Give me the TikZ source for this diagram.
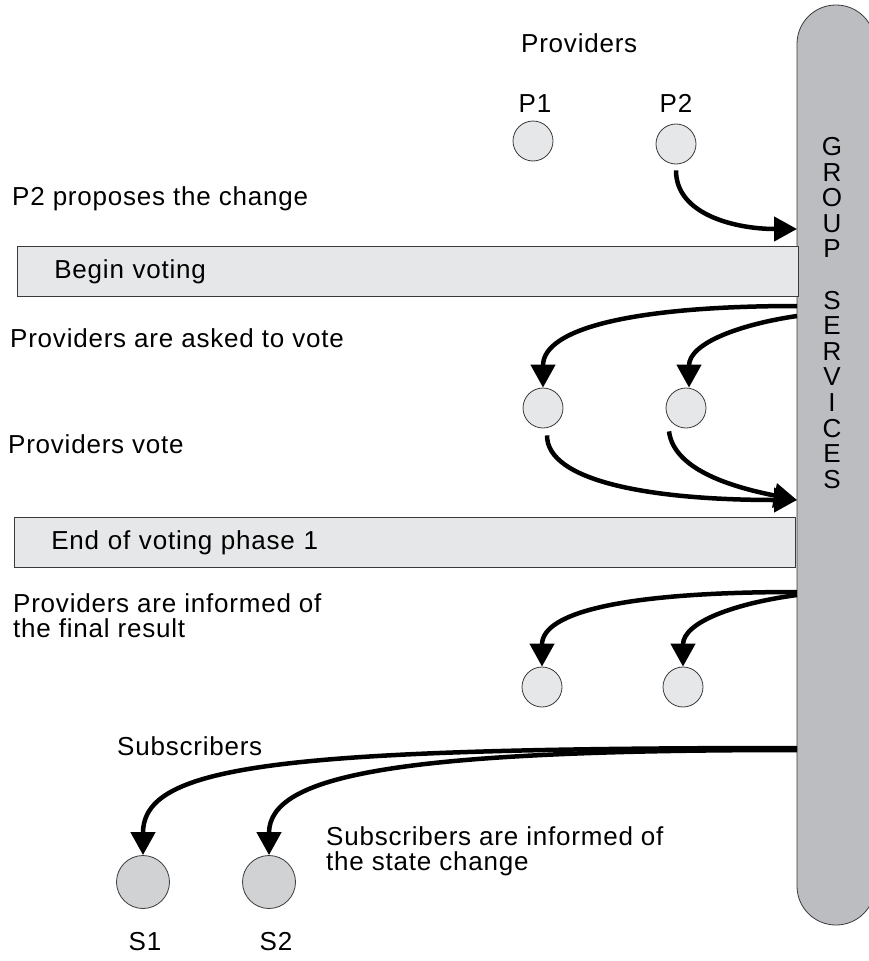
\documentclass[tikz,border=0pt]{standalone}
\usepackage{fontspec}
\setmainfont{Liberation Sans}[LetterSpace=3]
\usetikzlibrary{arrows.meta}

\definecolor{barfill}{HTML}{BCBDC0}
\definecolor{boxfill}{HTML}{E6E7E8}
\definecolor{subfill}{HTML}{D1D2D4}
\definecolor{edgegrey}{HTML}{3A3A3C}

\begin{document}
\begin{tikzpicture}[
    x=1pt, y=-1pt,
    every node/.style={font=\fontsize{26}{25}\selectfont, inner sep=0pt},
    label text/.style={anchor=base west},
    member/.style={circle, draw=edgegrey, line width=0.8pt, fill=boxfill, minimum size=40pt},
    subscriber/.style={member, fill=subfill, minimum size=53pt},
    phase/.style={rectangle, draw=edgegrey, line width=0.8pt, fill=boxfill, minimum height=50pt,
        text width=#1, align=left, inner xsep=37pt, anchor=north west},
    msg/.style={draw=black, line width=4.5pt, -{Triangle[length=23pt, width=24pt]}}
    ]
    \useasboundingbox (0,0) rectangle (869,961);

    % Group services bar
    \node[draw=edgegrey, line width=0.8pt, fill=barfill, rounded corners=38.9pt,
        minimum width=78pt, minimum height=920pt] (gs) at (836,465) {};
    \node[align=center, font=\fontsize{26}{25.6}\selectfont] (gstext) at (832,313)
        {G\\R\\O\\U\\P\\[25.6pt]S\\E\\R\\V\\I\\C\\E\\S};

    % Nodes
    \node[label text] (provtitle) at (521,52) {Providers};
    \node[anchor=base] (p1label) at (535,112) {P1};
    \node[anchor=base] (p2label) at (676,112) {P2};
    \node[member] (p1) at (533,141) {};
    \node[member] (p2) at (676,144) {};

    \node[label text] (propose) at (12,205) {P2 proposes the change};
    \node[phase=707pt] (begin) at (17,246) {Begin voting};

    \node[label text] (asked) at (10,347) {Providers are asked to vote};
    \node[member] (v1) at (543,408) {};
    \node[member] (v2) at (686,408) {};
    \node[label text] (vote) at (8,453) {Providers vote};

    \node[phase=707pt] (end) at (14,517) {End of voting phase 1};

    \node[label text, align=left] (informed) at (13,637) {Providers are informed of\\the final result};
    \node[member] (r1) at (542,687) {};
    \node[member] (r2) at (683,687) {};

    \node[label text] (subtitle) at (117,755) {Subscribers};
    \node[label text, align=left] (subinformed) at (326,870) {Subscribers are informed of\\the state change};
    \node[subscriber] (s1) at (143,882) {};
    \node[subscriber] (s2) at (269,882) {};
    \node[anchor=base] (s1label) at (145,950) {S1};
    \node[anchor=base] (s2label) at (276,950) {S2};

    % Points on the bar
    \coordinate (gsin1) at (797,229);
    \coordinate (gsout1) at (797,306);
    \coordinate (gsout2) at (797,316);
    \coordinate (gsin2) at (797,500);
    \coordinate (gsout3) at (797,592);
    \coordinate (gsout4) at (797,595);
    \coordinate (gsout5) at (797,748);
    \coordinate (gsout6) at (797,750);

    % Connections
    \draw[msg] ([yshift=-6pt]p2.south) .. controls +(0,45) and +(-60,0) .. (gsin1);

    \draw[msg] (gsout1) .. controls +(-160,0) and +(0,-60) .. (v1.north);
    \draw[msg] (gsout2) .. controls +(-55,8) and +(0,-45) .. ([xshift=3pt]v2.north);

    \draw[msg] ([shift={(4pt,-7pt)}]v1.south) .. controls +(0,45) and +(-150,0) .. (gsin2);
    \draw[msg] ([shift={(-17pt,-3pt)}]v2.south) .. controls +(5,40) and +(-60,-12) .. (gsin2);

    \draw[msg] (gsout3) .. controls +(-170,0) and +(0,-55) .. (r1.north);
    \draw[msg] (gsout4) .. controls +(-60,8) and +(0,-45) .. (r2.north);

    \draw[msg] (gsout5) .. controls +(-520,0) and +(0,-90) .. (s1.north);
    \draw[msg] (gsout6) .. controls +(-400,0) and +(0,-80) .. (s2.north);

\end{tikzpicture}
\end{document}
